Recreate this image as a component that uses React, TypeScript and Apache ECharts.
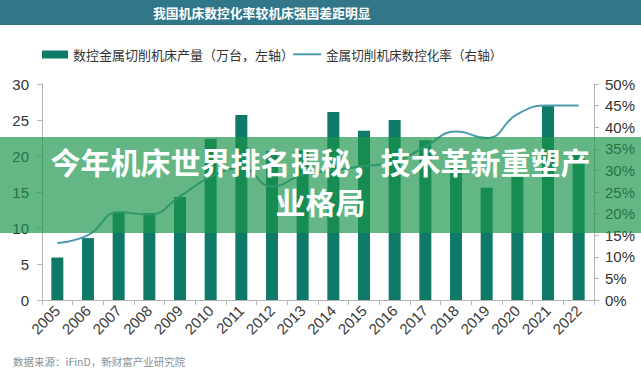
import React, { useEffect, useRef } from "react";
import * as echarts from "echarts";

const years = ["2005","2006","2007","2008","2009","2010","2011","2012","2013","2014","2015","2016","2017","2018","2019","2020","2021","2022"];
const cncOutput = [5.9, 8.6, 12.2, 12.1, 14.3, 22.4, 25.7, 20.7, 20.8, 26.1, 23.5, 25.0, 22.2, 18.5, 15.6, 17.5, 27.0, 20.5];
const cncRate = [13.2, 15.0, 20.3, 19.8, 24.0, 28.5, 30.5, 26.3, 29.0, 30.0, 31.0, 32.0, 35.5, 39.0, 37.5, 43.0, 45.0, 45.0];
const leftTicks = [0, 5, 10, 15, 20, 25, 30];
const rightTicks = [0, 5, 10, 15, 20, 25, 30, 35, 40, 45, 50];

const barName = "数控金属切削机床产量（万台，左轴）";
const lineName = "金属切削机床数控化率（右轴）";
const titleText = "我国机床数控化率较机床强国差距明显";
const bannerLine1 = "今年机床世界排名揭秘，技术革新重塑产";
const bannerLine2 = "业格局";
const sourceText = "数据来源：iFinD，新财富产业研究院";

const FONT = "'Liberation Sans', 'Noto Sans CJK SC', sans-serif";
const CJK = "'Noto Sans CJK SC', sans-serif";
const BAR_COLOR = "#0f7a68";
const LINE_COLOR = "#4c9cae";

export default function App() {
  const ref = useRef<HTMLDivElement>(null);
  useEffect(() => {
    if (!ref.current) return;
    const chart = echarts.init(ref.current, null, { renderer: "svg" });
    chart.setOption({
      animation: false,
      backgroundColor: "#ffffff",
      textStyle: { fontFamily: FONT },
      legend: [
        {
          left: 37,
          top: 43,
          itemWidth: 26,
          itemHeight: 8,
          textStyle: { fontFamily: CJK, fontSize: 13, color: "#333" },
          data: [{ name: barName, icon: "rect" }],
        },
        {
          left: 288,
          top: 43,
          itemWidth: 28,
          itemHeight: 2,
          textStyle: { fontFamily: CJK, fontSize: 12.6, color: "#333" },
          data: [{ name: lineName, icon: "rect", itemStyle: { color: LINE_COLOR } }],
        },
      ],
      grid: { left: 42, right: 47, top: 84, bottom: 71 },
      xAxis: {
        type: "category",
        data: years,
        axisLine: { lineStyle: { color: "#b5b5b5" } },
        axisTick: { show: true, alignWithLabel: false, length: 5, lineStyle: { color: "#b5b5b5" } },
        axisLabel: { rotate: 45, interval: 0, hideOverlap: false, fontSize: 15, color: "#3a3a3a", fontFamily: FONT, margin: 8 },
      },
      yAxis: [
        {
          type: "value",
          min: leftTicks[0],
          max: leftTicks[leftTicks.length - 1],
          interval: 5,
          splitLine: { show: false },
          axisLine: { show: true, lineStyle: { color: "#b5b5b5" } },
          axisTick: { show: true, length: 5, lineStyle: { color: "#b5b5b5" } },
          axisLabel: { fontSize: 15, color: "#333", fontFamily: FONT, margin: 13 },
        },
        {
          type: "value",
          min: rightTicks[0],
          max: rightTicks[rightTicks.length - 1],
          interval: 5,
          splitLine: { show: false },
          axisLine: { show: true, lineStyle: { color: "#b5b5b5" } },
          axisTick: { show: true, length: 5, lineStyle: { color: "#b5b5b5" } },
          axisLabel: { fontSize: 15, color: "#333", fontFamily: FONT, formatter: "{value}%", margin: 11 },
        },
      ],
      series: [
        {
          name: barName,
          type: "bar",
          yAxisIndex: 0,
          data: cncOutput,
          barWidth: 12,
          itemStyle: { color: BAR_COLOR },
        },
        {
          name: lineName,
          type: "line",
          yAxisIndex: 1,
          data: cncRate,
          smooth: true,
          symbol: "none",
          lineStyle: { color: LINE_COLOR, width: 2 },
          itemStyle: { color: LINE_COLOR },
        },
      ],
      graphic: [
        {
          type: "rect",
          left: 0,
          top: 0,
          shape: { width: 641, height: 25 },
          style: { fill: "#317789" },
          z: 10,
        },
        {
          type: "text",
          left: 153,
          top: 6,
          style: {
            text: titleText,
            fill: "#ffffff",
            font: "bold 12.8px 'Noto Sans CJK SC', sans-serif",
          },
          z: 11,
        },
        {
          type: "rect",
          left: 0,
          top: 137,
          shape: { width: 641, height: 96 },
          style: { fill: "rgba(26,149,74,0.68)" },
          z: 20,
        },
        {
          type: "text",
          left: "center",
          top: 146,
          style: {
            text: bannerLine1,
            fill: "#ffffff",
            font: "bold 30px 'Noto Sans CJK SC', sans-serif",
          },
          z: 21,
        },
        {
          type: "text",
          left: "center",
          top: 186,
          style: {
            text: bannerLine2,
            fill: "#ffffff",
            font: "bold 30px 'Noto Sans CJK SC', sans-serif",
          },
          z: 21,
        },
        {
          type: "text",
          left: 13,
          top: 356,
          style: {
            text: sourceText,
            fill: "#8a8f96",
            font: "10.5px 'Noto Sans CJK SC', sans-serif",
          },
          z: 11,
        },
      ],
    });
    return () => chart.dispose();
  }, []);
  return (
    <div
      ref={ref}
      style={{ position: "fixed", left: 0, top: 0, width: 641, height: 371 }}
    />
  );
}
